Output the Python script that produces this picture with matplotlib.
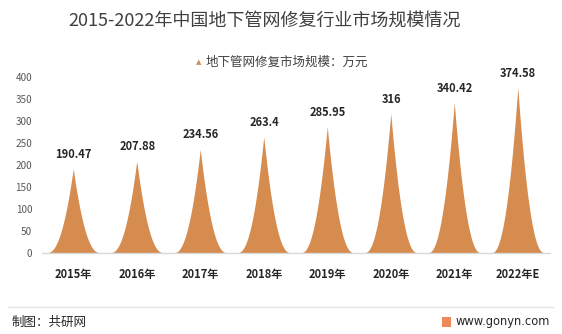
import numpy as np
import matplotlib.pyplot as plt
from matplotlib.patches import Rectangle

plt.rcParams['font.family'] = ['Noto Sans CJK SC', 'DejaVu Sans']

years = ['2015年', '2016年', '2017年', '2018年', '2019年', '2020年', '2021年', '2022年E']
scale = [190.47, 207.88, 234.56, 263.4, 285.95, 316, 340.42, 374.58]
value_labels = ['190.47', '207.88', '234.56', '263.4', '285.95', '316', '340.42', '374.58']
y_ticks = [0, 50, 100, 150, 200, 250, 300, 350, 400]

spike_color = '#D68B4F'
half_width = 0.41
sharpness = 2.2

fig = plt.figure(figsize=(5.62, 3.34), dpi=100)
ax = fig.add_axes([0.0747, 0.2425, 0.904, 0.527])

# concave "spike" shape for each year
u = np.linspace(-1, 1, 201)
for i, v in enumerate(scale):
    xs = i + u * half_width
    ys = v * (1 - np.abs(u)) ** sharpness
    ax.fill(xs, ys, color=spike_color, lw=0, zorder=2)
    ax.annotate(value_labels[i], (i, v), xytext=(0, 6), textcoords='offset points',
                ha='center', va='bottom', fontsize=8, fontweight='bold', color='#262626')

ax.set_xlim(-0.5, len(years) - 0.5)
ax.set_ylim(0, 400)
ax.set_xticks(range(len(years)))
ax.set_xticklabels(years, fontsize=8, fontweight='bold', color='#262626')
ax.set_yticks(y_ticks)
ax.tick_params(axis='y', length=0, pad=7, labelsize=7.2, labelcolor='#595959')
ax.tick_params(axis='x', length=0, pad=11)
for s in ['top', 'right', 'left']:
    ax.spines[s].set_visible(False)
ax.spines['bottom'].set_color('#D9D9D9')
ax.spines['bottom'].set_linewidth(1)

fig.text(0.47, 0.937, '2015-2022年中国地下管网修复行业市场规模情况',
         ha='center', va='center', fontsize=13, color='#404040')

# legend entry
fig.text(0.354, 0.814, '▲', ha='center', va='center', fontsize=5,
         color=spike_color, family=['DejaVu Sans'])
fig.text(0.365, 0.814, '地下管网修复市场规模：万元', ha='left', va='center',
         fontsize=9, color='#404040')

# footer
fig.add_artist(plt.Line2D([0.014, 0.984], [0.081, 0.081], transform=fig.transFigure,
                          color='#E3E3E3', lw=1))
fig.text(0.021, 0.036, '制图：共研网', ha='left', va='center', fontsize=9, color='#262626')
fig.add_artist(Rectangle((0.786, 0.021), 0.017, 0.03, transform=fig.transFigure,
                         color='#EE8A5A', lw=0))
fig.text(0.978, 0.036, 'www.gonyn.com', ha='right', va='center', fontsize=8.3,
         color='#262626', family=['DejaVu Sans'])

fig.savefig('out.png', dpi=100)
